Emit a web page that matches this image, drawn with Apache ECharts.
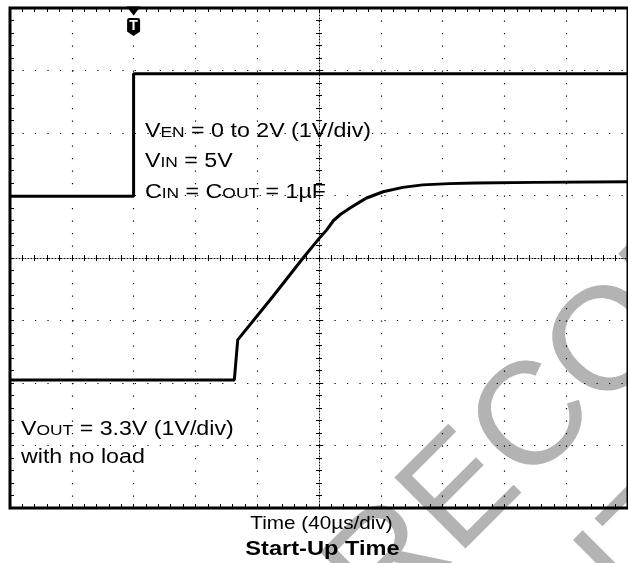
<!DOCTYPE html>
<html>
<head>
<meta charset="utf-8">
<script src="https://cdn.jsdelivr.net/npm/echarts@6/dist/echarts.min.js"></script>
<style>
  html, body { margin: 0; padding: 0; background: #fff; }
  #main { width: 628px; height: 563px; }
</style>
</head>
<body>
<div id="main"></div>
<script>
// Oscilloscope capture: time in µs (40 µs/div, 10 div), traces in screen divisions (8 div)
const venTime = [0, 80, 80, 400];
const venDiv  = [4.99, 4.99, 6.95, 6.95];

const voutTime = [0, 145.2, 147.4, 170, 189.7, 200, 205, 209.4, 214, 220.1, 226, 230.8, 241.5, 254.3, 267.1, 284.2, 301.3, 340, 400];
const voutDiv  = [2.05, 2.05, 2.69, 3.38, 4.0, 4.31, 4.45, 4.60, 4.70, 4.80, 4.89, 4.96, 5.06, 5.13, 5.17, 5.19, 5.20, 5.21, 5.22];

const triggerTime = 80;

const xTitle = 'Time (40µs/div)';
const chartTitle = 'Start-Up Time';

const venData = venTime.map((t, i) => [t, venDiv[i]]);
const voutData = voutTime.map((t, i) => [t, voutDiv[i]]);

const FONT = 'Liberation Sans';
const dotX = [1.2, 62.4 / 5 - 1.2];
const dotY = [1.2, 62.5 / 5 - 1.2];

function richLine(parts) {
  return parts.map(p => '{' + p[0] + '|' + p[1] + '}').join('');
}
const rich = {
  m: { fontSize: 20, lineHeight: 24, fontFamily: FONT, fill: '#000' },
  s: { fontSize: 15, lineHeight: 21, fontFamily: FONT, fill: '#000', verticalAlign: 'bottom', padding: [0, 0, 3, 0] }
};
function annot(x, top, parts) {
  return {
    type: 'text', x: x, y: top, scaleX: 1.16, silent: true, z: 50,
    style: { text: richLine(parts), rich: rich, x: 0, y: 0, align: 'left', verticalAlign: 'top' }
  };
}

const chart = echarts.init(document.getElementById('main'));
const option = {
  animation: false,
  backgroundColor: '#fff',
  grid: { left: 10, top: 8, width: 624, height: 500, show: true, borderColor: '#000', borderWidth: 3, backgroundColor: 'transparent' },
  xAxis: [
    { type: 'value', min: 0, max: 400, interval: 40, position: 'bottom',
      axisLine: { show: false, onZero: false },
      axisTick: { show: true, inside: true, length: 4, lineStyle: { color: '#000' } },
      minorTick: { show: true, splitNumber: 5, length: 4, lineStyle: { color: '#000' } },
      axisLabel: { show: false },
      splitLine: { show: true, lineStyle: { color: '#000', width: 1.2, type: dotY } } },
    { type: 'value', min: 0, max: 400, interval: 40, position: 'top',
      axisLine: { show: false, onZero: false },
      axisTick: { show: true, inside: true, length: 4, lineStyle: { color: '#000' } },
      minorTick: { show: true, splitNumber: 5, length: 4, lineStyle: { color: '#000' } },
      axisLabel: { show: false }, splitLine: { show: false } },
    { type: 'value', min: -200, max: 200, interval: 8, position: 'bottom',
      axisLine: { show: true, onZero: true, onZeroAxisIndex: 1, lineStyle: { color: '#000', width: 1, type: [1, 2] } },
      axisTick: { show: true, inside: false, length: 3, lineStyle: { color: '#000' } },
      axisLabel: { show: false }, splitLine: { show: false } },
    { type: 'value', min: -200, max: 200, interval: 8, position: 'bottom',
      axisLine: { show: false, onZero: true, onZeroAxisIndex: 1 },
      axisTick: { show: true, inside: true, length: 3, lineStyle: { color: '#000' } },
      axisLabel: { show: false }, splitLine: { show: false } }
  ],
  yAxis: [
    { type: 'value', min: 0, max: 8, interval: 1, position: 'left',
      axisLine: { show: false, onZero: false },
      axisTick: { show: true, inside: true, length: 4, lineStyle: { color: '#000' } },
      minorTick: { show: true, splitNumber: 5, length: 4, lineStyle: { color: '#000' } },
      axisLabel: { show: false },
      splitLine: { show: true, lineStyle: { color: '#000', width: 1.2, type: dotX } } },
    { type: 'value', min: -4, max: 4, interval: 0.2, position: 'left',
      axisLine: { show: true, onZero: true, onZeroAxisIndex: 2, lineStyle: { color: '#000', width: 1, type: [1, 2] } },
      axisTick: { show: true, inside: false, length: 3, lineStyle: { color: '#000' } },
      axisLabel: { show: false }, splitLine: { show: false } },
    { type: 'value', min: -4, max: 4, interval: 0.2, position: 'left',
      axisLine: { show: false, onZero: true, onZeroAxisIndex: 2 },
      axisTick: { show: true, inside: true, length: 3, lineStyle: { color: '#000' } },
      axisLabel: { show: false }, splitLine: { show: false } }
  ],
  series: [
    { name: 'VEN', type: 'line', xAxisIndex: 0, yAxisIndex: 0, data: venData, showSymbol: false, z: 10,
      lineStyle: { color: '#000', width: 3 }, clip: false,
      markPoint: {
        silent: true, animation: false,
        data: [
          { coord: [triggerTime, 8], symbol: 'triangle', symbolRotate: 180, symbolSize: [14, 9], symbolOffset: [0, 3],
            itemStyle: { color: '#000' }, label: { show: false } },
          { coord: [triggerTime, 8], symbol: 'path://M2,0 L10,0 Q12,0 12,2 L12,12 L6,16 L0,12 L0,2 Q0,0 2,0 Z',
            symbolSize: [13, 18], symbolOffset: [0, 19], itemStyle: { color: '#000' },
            label: { show: true, position: 'inside', formatter: 'T', color: '#fff', fontWeight: 'bold', fontSize: 14, fontFamily: FONT, offset: [0, -1] } }
        ]
      } },
    { name: 'VOUT', type: 'line', xAxisIndex: 0, yAxisIndex: 0, data: voutData, showSymbol: false, z: 10,
      lineStyle: { color: '#000', width: 3 } }
  ],
  graphic: [
    // watermark
    { type: 'text', x: 354, y: 603, rotation: Math.PI / 4, z: -10, silent: true,
      style: { text: 'RECOMMENDED', fontSize: 146, fontFamily: FONT, fill: '#b3b3b3', align: 'left', verticalAlign: 'middle' } },
    { type: 'text', x: 606, y: 592, rotation: Math.PI / 4, z: -10, silent: true,
      style: { text: 'IT', fontSize: 146, fontFamily: FONT, fill: '#b3b3b3', align: 'left', verticalAlign: 'middle' } },
    annot(145, 119, [['m', 'V'], ['s', 'EN'], ['m', ' = 0 to 2V (1V/div)']]),
    annot(145, 149.5, [['m', 'V'], ['s', 'IN'], ['m', ' = 5V']]),
    annot(145, 180.5, [['m', 'C'], ['s', 'IN'], ['m', ' = C'], ['s', 'OUT'], ['m', ' = 1µF']]),
    annot(21, 417.5, [['m', 'V'], ['s', 'OUT'], ['m', ' = 3.3V (1V/div)']]),
    annot(21, 445, [['m', 'with no load']]),
    { type: 'text', x: 321.5, y: 514, scaleX: 1.09, silent: true, z: 50,
      style: { text: xTitle, fontSize: 19, fontFamily: FONT, fill: '#000', align: 'center', verticalAlign: 'top', x: 0, y: 0 } },
    { type: 'text', x: 322.5, y: 539.5, scaleX: 1.18, silent: true, z: 50,
      style: { text: chartTitle, fontSize: 20, fontWeight: 'bold', fontFamily: FONT, fill: '#000', align: 'center', verticalAlign: 'top', x: 0, y: 0 } }
  ]
};
chart.setOption(option);
</script>
</body>
</html>
